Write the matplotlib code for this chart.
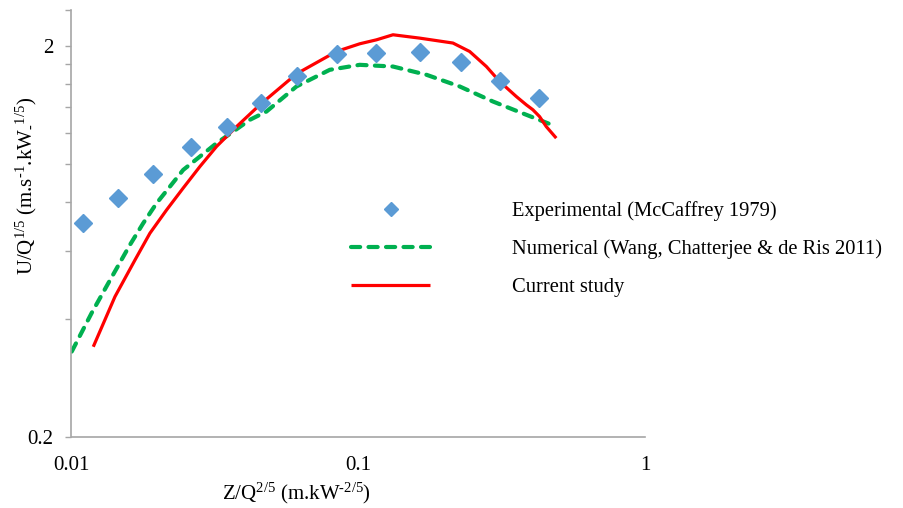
import matplotlib
matplotlib.use("Agg")
import matplotlib.pyplot as plt
from matplotlib.ticker import FixedLocator, NullFormatter, FixedFormatter

plt.rcParams['font.family'] = ['Liberation Serif', 'DejaVu Serif']
plt.rcParams['mathtext.default'] = 'regular'

# Experimental (McCaffrey 1979)
exp_x = [0.01099, 0.01456, 0.01923, 0.02602, 0.03473, 0.04562, 0.06119,
         0.08435, 0.1151, 0.1638, 0.2289, 0.3112, 0.4266]
exp_y = [0.708, 0.818, 0.944, 1.105, 1.243, 1.437, 1.683,
         1.916, 1.924, 1.935, 1.820, 1.634, 1.475]

# Numerical (Wang, Chatterjee & de Ris 2011)
num_x = [0.01002, 0.01176, 0.01343, 0.01599, 0.01779, 0.01981, 0.02204,
         0.02452, 0.02803, 0.03205, 0.03664, 0.04188, 0.04786, 0.0609,
         0.07956, 0.1012, 0.1322, 0.1728, 0.2258, 0.2949, 0.3856, 0.4904]
num_y = [0.331, 0.4157, 0.495, 0.621, 0.7056, 0.794, 0.8755,
         0.966, 1.045, 1.131, 1.211, 1.298, 1.363, 1.580,
         1.743, 1.795, 1.777, 1.693, 1.580, 1.446, 1.337, 1.247]

# Current study
cur_x = [0.01191, 0.01418, 0.01665, 0.01877, 0.02146, 0.02452, 0.02803,
         0.03205, 0.03764, 0.04537, 0.0609, 0.08395, 0.1012, 0.1157,
         0.1322, 0.1638, 0.2139, 0.2446, 0.2798, 0.3112, 0.3558, 0.3855,
         0.4065, 0.4289, 0.4526, 0.4904]
cur_y = [0.3405, 0.4577, 0.568, 0.665, 0.763, 0.868, 0.985,
         1.109, 1.247, 1.418, 1.702, 1.942, 2.032, 2.080,
         2.143, 2.101, 2.041, 1.942, 1.777, 1.627, 1.489, 1.418,
         1.377, 1.323, 1.247, 1.165]

labels = ["Experimental (McCaffrey 1979)",
          "Numerical (Wang, Chatterjee & de Ris 2011)",
          "Current study"]

x_ticks = [0.01, 0.1, 1]
x_ticklabels = ["0.01", "0.1", "1"]
y_ticks = [0.2, 2]
y_ticklabels = ["0.2", "2"]
y_minor = [0.4, 0.6, 0.8, 1.0, 1.2, 1.4, 1.6, 1.8, 2.48]

fig = plt.figure(figsize=(9.04, 5.08), dpi=100)
ax = fig.add_axes([71.5/904, 1-437/508, (645-71.5)/904, (437-10)/508])
ax.set_xscale('log')
ax.set_yscale('log')

ax.plot(exp_x, exp_y, linestyle='none', marker='D', markersize=9.5,
        color='#5B9BD5', label=labels[0], zorder=3)
ax.plot(num_x, num_y, color='#00B050', linewidth=3.0, dashes=(2.2, 2.0),
        dash_capstyle='round', label=labels[1], zorder=2)
ax.plot(cur_x, cur_y, color='#FF0000', linewidth=2.3, label=labels[2],
        solid_capstyle='butt', solid_joinstyle='round', zorder=2)

ax.set_xlim(0.01, 1)
ax.set_ylim(0.2, 2.48)

ax.xaxis.set_major_locator(FixedLocator(x_ticks))
ax.xaxis.set_major_formatter(FixedFormatter(x_ticklabels))
ax.xaxis.set_minor_locator(FixedLocator([]))
ax.yaxis.set_major_locator(FixedLocator(y_ticks))
ax.yaxis.set_major_formatter(FixedFormatter(y_ticklabels))
ax.yaxis.set_minor_locator(FixedLocator(y_minor))
ax.yaxis.set_minor_formatter(NullFormatter())

for s in ['top', 'right']:
    ax.spines[s].set_visible(False)
for s in ['left', 'bottom']:
    ax.spines[s].set_color('#A6A6A6')
    ax.spines[s].set_linewidth(1.2)

ax.tick_params(axis='x', which='both', length=0, pad=14, labelsize=15)
ax.tick_params(axis='y', which='both', length=4, width=1.0, color='#A6A6A6',
               direction='out', pad=9, labelsize=15)

ax.set_xlabel("Z/Q$^{2/5}$ (m.kW$^{\u20102/5}$)", fontsize=15)
ax.xaxis.set_label_coords((296 - 71.5) / 573.5, (437 - 481) / 427)
ax.set_ylabel("U/Q$^{1/5}$ (m.s$^{\u20101}$.kW$_{\u2010}{}^{1/5}$)", fontsize=15)
ax.yaxis.set_label_coords((39 - 71.5) / 573.5, (437 - 186) / 427)

leg = fig.legend(loc='upper left', bbox_to_anchor=(333/904, 1-183/508),
                 frameon=False, fontsize=14.8, handlelength=3.8,
                 handletextpad=4.0, labelspacing=0.88, markerscale=0.7)

fig.savefig("out.png", dpi=100)
